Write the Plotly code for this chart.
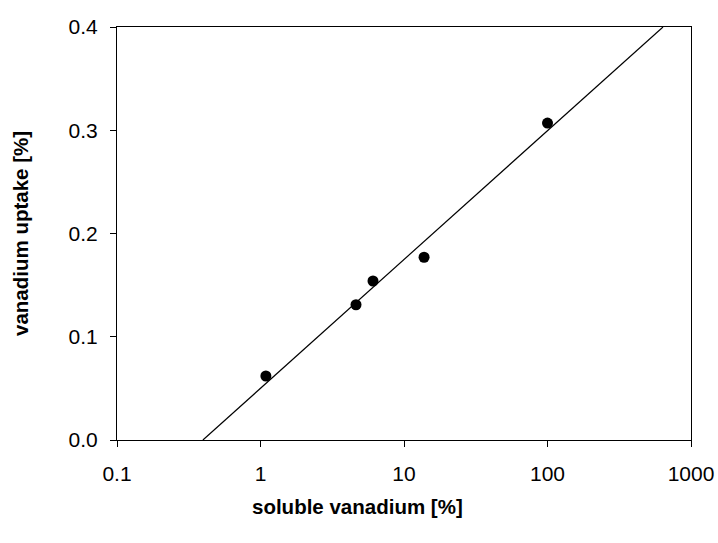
import plotly.graph_objects as go

soluble_v = [1.09, 4.63, 6.08, 13.8, 100.0]
uptake = [0.062, 0.131, 0.154, 0.177, 0.307]
fit_x = [0.397, 638.0]
fit_y = [0.0, 0.4]
x_ticks = [0.1, 1, 10, 100, 1000]
x_tick_labels = ["0.1", "1", "10", "100", "1000"]
y_ticks = [0.0, 0.1, 0.2, 0.3, 0.4]

FONT = "Liberation Sans, Arial, sans-serif"

fig = go.Figure()
fig.add_trace(go.Scatter(x=fit_x, y=fit_y, mode="lines",
                         line=dict(color="black", width=1.2), showlegend=False))
fig.add_trace(go.Scatter(x=soluble_v, y=uptake, mode="markers",
                         marker=dict(color="black", size=11), showlegend=False))

fig.update_layout(
    width=718, height=543,
    margin=dict(l=117, r=27, t=27, b=103, autoexpand=False),
    paper_bgcolor="white", plot_bgcolor="white",
    font=dict(family=FONT, size=21, color="black"),
    xaxis=dict(type="log", range=[-1, 3], tickvals=x_ticks, ticktext=x_tick_labels,
               ticks="outside", ticklen=6, tickwidth=1.2, tickcolor="black",
               showline=True, linecolor="black", linewidth=1.2, mirror=True,
               showgrid=False, zeroline=False, ticklabelstandoff=9,
               automargin=False,
               tickfont=dict(family=FONT, size=21)),
    yaxis=dict(range=[0, 0.4], tickvals=y_ticks, tickformat=".1f",
               ticks="outside", ticklen=6, tickwidth=1.2, tickcolor="black",
               showline=True, linecolor="black", linewidth=1.2, mirror=True,
               showgrid=False, zeroline=False, ticklabelstandoff=8,
               automargin=False,
               tickfont=dict(family=FONT, size=21),
               title=dict(text="<b>vanadium uptake [%]</b>", standoff=34,
                          font=dict(family=FONT, size=20.5))),
    annotations=[dict(text="<b>soluble vanadium [%]</b>", xref="paper", yref="paper",
                      x=0.419, y=-0.16, xanchor="center", yanchor="middle",
                      showarrow=False, font=dict(family=FONT, size=20.5))],
)

fig.write_html("out.html")
